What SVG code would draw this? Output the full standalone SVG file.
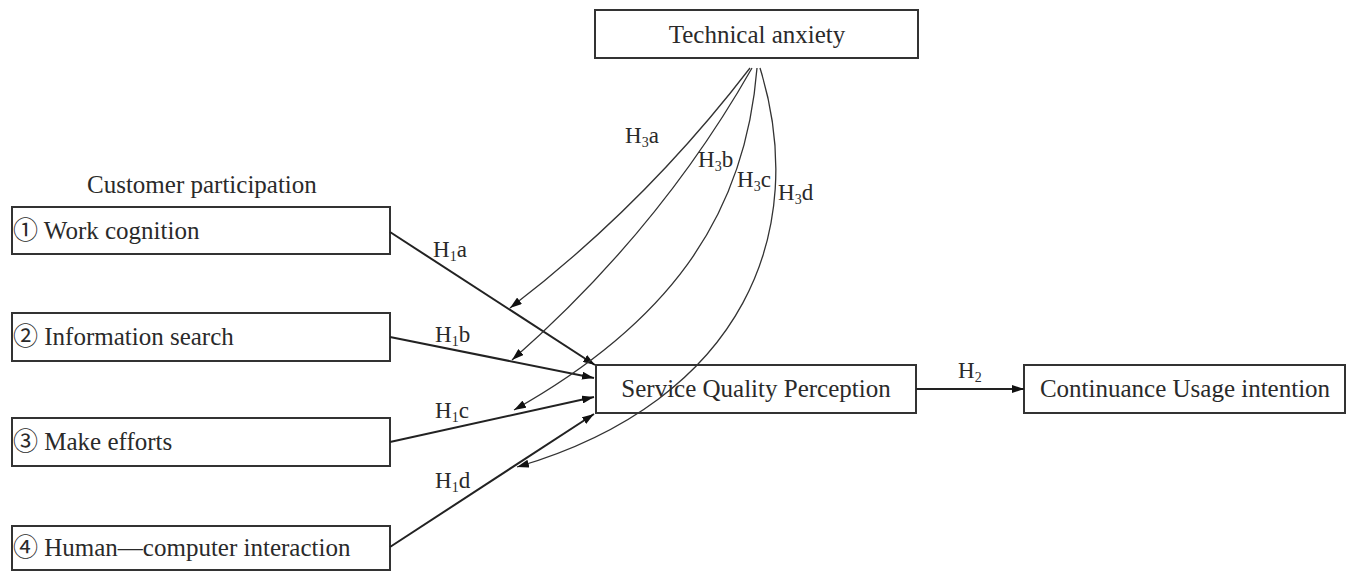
<svg xmlns="http://www.w3.org/2000/svg" width="1350" height="571" viewBox="0 0 1350 571">
<style>
.box{fill:#fff;stroke:#333;stroke-width:2}
.t{font-family:"Liberation Serif","DejaVu Serif","Noto Sans CJK SC",serif;font-size:25px;fill:#2a2a2a}
.lbl{font-family:"Liberation Serif","DejaVu Serif",serif;font-size:23px;fill:#2a2a2a}
.sub{font-size:14px}
.c1{fill:none;stroke:#222;stroke-width:2}
.c3{fill:none;stroke:#333;stroke-width:1.3}
</style>
<defs>
<marker id="ah" viewBox="0 0 12 8" refX="12" refY="4" markerWidth="12" markerHeight="8" markerUnits="userSpaceOnUse" orient="auto">
<path d="M0,0 L12,4 L0,8 Z" fill="#111"/>
</marker>
</defs>
<rect width="1350" height="571" fill="#fff"/>
<g id="technical-anxiety">
<rect class="box" x="595" y="10" width="323" height="48"/>
<text class="t" x="757" y="43" text-anchor="middle">Technical anxiety</text>
</g>
<text class="t" x="87" y="193">Customer participation</text>
<g id="work-cognition">
<rect class="box" x="12" y="207" width="378" height="47"/>
<text class="t" x="13" y="239">① Work cognition</text>
</g>
<g id="information-search">
<rect class="box" x="12" y="313" width="378" height="48"/>
<text class="t" x="13" y="345">② Information search</text>
</g>
<g id="make-efforts">
<rect class="box" x="12" y="418" width="378" height="48"/>
<text class="t" x="13" y="450">③ Make efforts</text>
</g>
<g id="human-computer">
<rect class="box" x="12" y="526" width="378" height="44"/>
<text class="t" x="13" y="556">④ Human—computer interaction</text>
</g>
<g id="service-quality">
<rect class="box" x="596" y="365" width="320" height="48"/>
<text class="t" x="756" y="397" text-anchor="middle">Service Quality Perception</text>
</g>
<g id="continuance">
<rect class="box" x="1024" y="365" width="321" height="48"/>
<text class="t" x="1185" y="397" text-anchor="middle">Continuance Usage intention</text>
</g>
<g id="connectors">
<path class="c1" d="M390,232 L595,365" marker-end="url(#ah)"/>
<path class="c1" d="M390,337 L594,378" marker-end="url(#ah)"/>
<path class="c1" d="M390,442 L594,397" marker-end="url(#ah)"/>
<path class="c1" d="M390,547 L594,414" marker-end="url(#ah)"/>
<path class="c1" d="M916,389 L1024,389" marker-end="url(#ah)"/>
<path class="c3" d="M750,68 Q645,205 510,308" marker-end="url(#ah)"/>
<path class="c3" d="M752,68 Q660,230 512,360" marker-end="url(#ah)"/>
<path class="c3" d="M757,68 C745,220 665,325 514,410" marker-end="url(#ah)"/>
<path class="c3" d="M760,68 C810,230 745,400 517,467" marker-end="url(#ah)"/>
</g>
<g id="labels">
<text class="lbl" x="433" y="257">H<tspan class="sub" dy="4">1</tspan><tspan dy="-4">a</tspan></text>
<text class="lbl" x="435" y="342">H<tspan class="sub" dy="4">1</tspan><tspan dy="-4">b</tspan></text>
<text class="lbl" x="435" y="418">H<tspan class="sub" dy="4">1</tspan><tspan dy="-4">c</tspan></text>
<text class="lbl" x="435" y="488">H<tspan class="sub" dy="4">1</tspan><tspan dy="-4">d</tspan></text>
<text class="lbl" x="958" y="378">H<tspan class="sub" dy="4">2</tspan></text>
<text class="lbl" x="625" y="143">H<tspan class="sub" dy="4">3</tspan><tspan dy="-4">a</tspan></text>
<text class="lbl" x="698" y="167">H<tspan class="sub" dy="4">3</tspan><tspan dy="-4">b</tspan></text>
<text class="lbl" x="737" y="187">H<tspan class="sub" dy="4">3</tspan><tspan dy="-4">c</tspan></text>
<text class="lbl" x="778" y="200">H<tspan class="sub" dy="4">3</tspan><tspan dy="-4">d</tspan></text>
</g>
</svg>
